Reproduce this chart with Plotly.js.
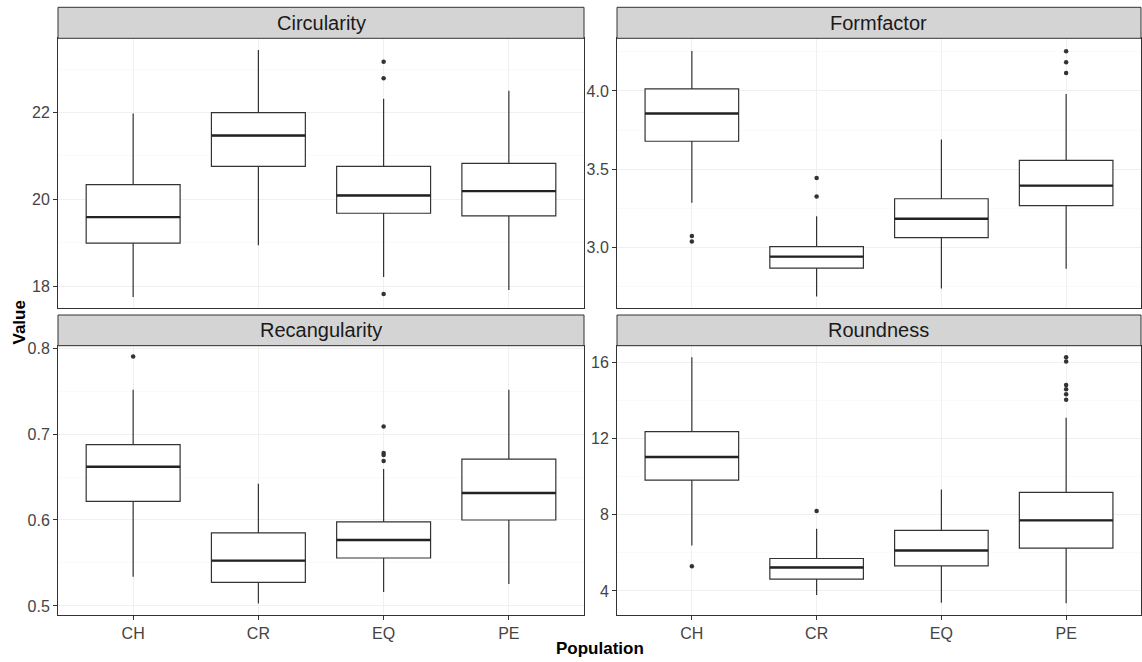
<!DOCTYPE html>
<html><head><meta charset="utf-8">
<script src="https://cdn.plot.ly/plotly-3.0.1.min.js"></script>
<style>html,body{margin:0;padding:0;background:#fff}#chart{width:1142px;height:662px}</style>
</head><body><div id="chart"></div>
<script>
const categories = ['CH', 'CR', 'EQ', 'PE'];
const panelTitles = ['Circularity', 'Formfactor', 'Recangularity', 'Roundness'];

// Circularity
const circQ1 = [18.99, 20.76, 19.68, 19.62];
const circMedian = [19.59, 21.47, 20.09, 20.19];
const circQ3 = [20.34, 22.00, 20.76, 20.83];
const circLower = [17.75, 18.94, 18.21, 17.91];
const circUpper = [21.98, 23.44, 22.32, 22.50];
const circOutCat = ['EQ', 'EQ', 'EQ'];
const circOutVal = [23.17, 22.79, 17.82];

// Formfactor
const formQ1 = [3.679, 2.870, 3.064, 3.268];
const formMedian = [3.856, 2.943, 3.184, 3.396];
const formQ3 = [4.013, 3.006, 3.312, 3.557];
const formLower = [3.287, 2.689, 2.740, 2.866];
const formUpper = [4.255, 3.200, 3.690, 3.980];
const formOutCat = ['CH', 'CH', 'CR', 'CR', 'PE', 'PE', 'PE'];
const formOutVal = [3.074, 3.040, 3.445, 3.326, 4.253, 4.183, 4.115];

// Recangularity
const rectQ1 = [0.6216, 0.5275, 0.5558, 0.600];
const rectMedian = [0.662, 0.5527, 0.5767, 0.6314];
const rectQ3 = [0.6876, 0.5849, 0.5977, 0.6709];
const rectLower = [0.534, 0.503, 0.5163, 0.5256];
const rectUpper = [0.7515, 0.6422, 0.6593, 0.7515];
const rectOutCat = ['CH', 'EQ', 'EQ', 'EQ', 'EQ'];
const rectOutVal = [0.790, 0.7088, 0.678, 0.6756, 0.6686];

// Roundness
const roundQ1 = [9.81, 4.62, 5.31, 6.24];
const roundMedian = [11.02, 5.23, 6.12, 7.70];
const roundQ3 = [12.35, 5.70, 7.17, 9.17];
const roundLower = [6.38, 3.79, 3.38, 3.35];
const roundUpper = [16.26, 7.26, 9.32, 13.08];
const roundOutCat = ['CH', 'CR', 'PE', 'PE', 'PE', 'PE', 'PE', 'PE'];
const roundOutVal = [5.29, 8.19, 16.26, 16.03, 14.80, 14.58, 14.32, 14.02];

const panelData = [
  {q1: circQ1, med: circMedian, q3: circQ3, lo: circLower, hi: circUpper, oc: circOutCat, ov: circOutVal},
  {q1: formQ1, med: formMedian, q3: formQ3, lo: formLower, hi: formUpper, oc: formOutCat, ov: formOutVal},
  {q1: rectQ1, med: rectMedian, q3: rectQ3, lo: rectLower, hi: rectUpper, oc: rectOutCat, ov: rectOutVal},
  {q1: roundQ1, med: roundMedian, q3: roundQ3, lo: roundLower, hi: roundUpper, oc: roundOutCat, ov: roundOutVal}
];

const FONT = 'Liberation Sans, Arial, sans-serif';
const LINE = '#333333';
const BOXW = 0.75;
const idx = categories.map((c, i) => i);

const traces = [];
panelData.forEach((p, k) => {
  const xa = k === 0 ? 'x' : 'x' + (k + 1);
  const ya = k === 0 ? 'y' : 'y' + (k + 1);
  traces.push({
    type: 'box', xaxis: xa, yaxis: ya, x: idx,
    q1: p.q1, median: p.med, q3: p.q3, lowerfence: p.lo, upperfence: p.hi,
    width: BOXW, whiskerwidth: 0, boxpoints: false,
    fillcolor: '#ffffff', line: {color: LINE, width: 1.2},
    showlegend: false, hoverinfo: 'skip'
  });
  // thicker median segments (ggplot fatten)
  const mx = [], my = [];
  p.med.forEach((m, i) => { mx.push(i - BOXW / 2, i + BOXW / 2, null); my.push(m, m, null); });
  traces.push({
    type: 'scatter', mode: 'lines', xaxis: xa, yaxis: ya, x: mx, y: my,
    line: {color: '#222222', width: 2.4}, showlegend: false, hoverinfo: 'skip'
  });
  traces.push({
    type: 'scatter', mode: 'markers', xaxis: xa, yaxis: ya,
    x: p.oc.map(c => categories.indexOf(c)), y: p.ov,
    marker: {color: LINE, size: 4.5}, showlegend: false, hoverinfo: 'skip'
  });
});

const W = 1142, H = 662;
const px = v => v / W;
const py = v => 1 - v / H;
const xDom = [[px(58), px(584)], [px(617), px(1141)]];
const yDom = [[py(308.3), py(38.3)], [py(615), py(345.7)]];
const stripY = [[py(38.3), py(7.3)], [py(345.7), py(315)]];
const yRanges = [[17.49, 23.71], [2.613, 4.336], [0.4895, 0.8027], [2.737, 16.86]];
const yDticks = [2, 0.5, 0.1, 4];
const yFormats = ['', '.1f', '.1f', ''];

const layout = {
  width: W, height: H,
  margin: {l: 0, r: 0, t: 0, b: 0},
  paper_bgcolor: '#ffffff', plot_bgcolor: '#ffffff',
  font: {family: FONT, color: '#4d4d4d'},
  showlegend: false,
  shapes: [], annotations: []
};

for (let k = 0; k < 4; k++) {
  const col = k % 2, row = Math.floor(k / 2);
  const xn = k === 0 ? 'xaxis' : 'xaxis' + (k + 1);
  const yn = k === 0 ? 'yaxis' : 'yaxis' + (k + 1);
  const yid = k === 0 ? 'y' : 'y' + (k + 1);
  const xid = k === 0 ? 'x' : 'x' + (k + 1);
  layout[xn] = {
    domain: xDom[col], anchor: yid, range: [-0.6, 3.6],
    tickmode: 'array', tickvals: idx, ticktext: categories,
    showticklabels: row === 1, ticks: row === 1 ? 'outside' : '',
    ticklen: 4, tickcolor: LINE, tickwidth: 1,
    tickfont: {family: FONT, size: 16, color: '#444444'},
    showgrid: true, gridcolor: '#f0f0f0', gridwidth: 1,
    zeroline: false, showline: true, mirror: true, linecolor: LINE, linewidth: 1,
    fixedrange: true
  };
  layout[yn] = {
    domain: yDom[row], anchor: xid, range: yRanges[k],
    dtick: yDticks[k], tick0: 0, tickformat: yFormats[k],
    ticks: 'outside', ticklen: 4, tickcolor: LINE, tickwidth: 1,
    tickfont: {family: FONT, size: 16, color: '#444444'},
    showgrid: true, gridcolor: '#f0f0f0', gridwidth: 1,
    minor: {dtick: yDticks[k] / 2, tick0: 0, showgrid: true, gridcolor: '#f7f7f7', gridwidth: 0.6},
    zeroline: false, showline: true, mirror: true, linecolor: LINE, linewidth: 1,
    fixedrange: true
  };
  layout.shapes.push({
    type: 'rect', xref: 'paper', yref: 'paper',
    x0: xDom[col][0], x1: xDom[col][1], y0: stripY[row][0], y1: stripY[row][1],
    fillcolor: '#d4d4d4', line: {color: LINE, width: 1}, layer: 'above'
  });
  layout.annotations.push({
    xref: 'paper', yref: 'paper', x: (xDom[col][0] + xDom[col][1]) / 2,
    y: (stripY[row][0] + stripY[row][1]) / 2, text: panelTitles[k], showarrow: false,
    xanchor: 'center', yanchor: 'middle',
    font: {family: FONT, size: 20, color: '#1a1a1a'}
  });
}

layout.annotations.push({
  xref: 'paper', yref: 'paper', x: px(18.5), y: py(322), text: '<b>Value</b>',
  showarrow: false, textangle: -90, xanchor: 'center', yanchor: 'middle',
  font: {family: FONT, size: 17, color: '#000000'}
});
layout.annotations.push({
  xref: 'paper', yref: 'paper', x: px(599.5), y: py(648), text: '<b>Population</b>',
  showarrow: false, xanchor: 'center', yanchor: 'middle',
  font: {family: FONT, size: 17, color: '#000000'}
});

Plotly.newPlot('chart', traces, layout, {displayModeBar: false, staticPlot: true});
</script>
</body></html>
